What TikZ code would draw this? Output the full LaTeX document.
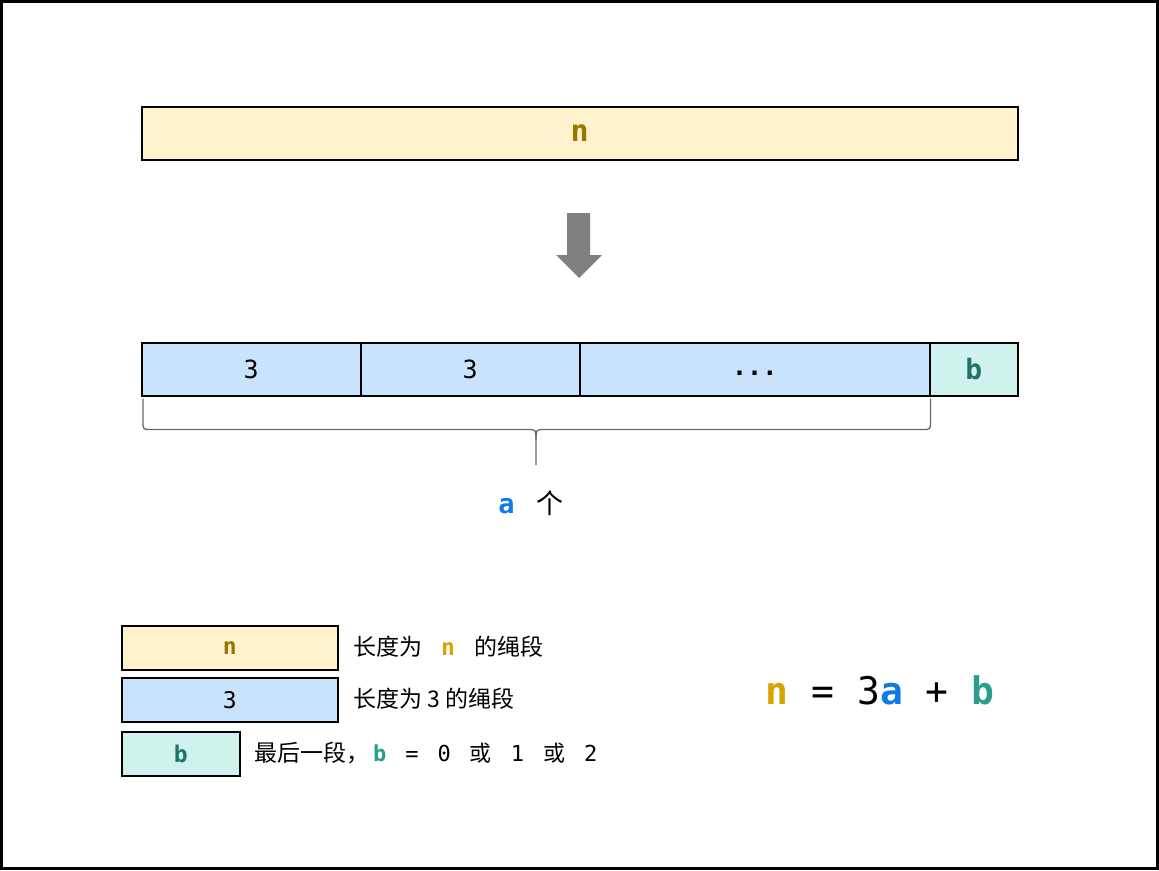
\documentclass[tikz,border=0pt]{standalone}
\usepackage{fontspec}
\setmainfont{Noto Sans CJK SC}
\setmonofont{DejaVu Sans Mono}
\usepackage{xcolor}
\usetikzlibrary{positioning,calc}
\definecolor{ropeyellow}{HTML}{FFF2CC}
\definecolor{ropeblue}{HTML}{C9E3FC}
\definecolor{ropeteal}{HTML}{D0F2EC}
\definecolor{ndark}{HTML}{9A7600}
\definecolor{ngold}{HTML}{D8A300}
\definecolor{ablue}{HTML}{0F7AE5}
\definecolor{bdark}{HTML}{1C7566}
\definecolor{bteal}{HTML}{2A9D8F}
\definecolor{arrowgray}{HTML}{808080}
\definecolor{bracegray}{HTML}{666666}
\newcommand\wsp{\hspace{19pt}}

\begin{document}
\begin{tikzpicture}[x=1pt,y=-1pt,font=\fontsize{23}{27}\selectfont,
  seg/.style={draw,line width=1.5pt,inner sep=0pt,anchor=north west,minimum height=53pt,
              font=\fontsize{25}{29}\selectfont\ttfamily},
  key/.style={draw,line width=1.5pt,inner sep=0pt,anchor=north west,minimum height=44pt,
              font=\fontsize{23}{27}\selectfont\ttfamily},
  brace/.style={bracegray,line width=1.3pt}]
  \useasboundingbox (0,0) rectangle (1159,870);
  \draw[line width=3pt] (1.5,1.5) rectangle (1157.5,868.5);
  % whole rope
  \node[seg,fill=ropeyellow,minimum width=876pt,font=\fontsize{30}{34}\selectfont\ttfamily] (whole) at (141,106)
       {\textcolor{ndark}{\textbf{n}}};
  \fill[arrowgray] (567,213) -- (590,213) -- (590,255) -- (602,255) -- (579,278) -- (556,255) -- (567,255) -- cycle;
  % cut rope
  \foreach \x/\w/\lab/\nm in {141/219/3/c1,360/219/3/c2,579/350/\raisebox{-6pt}[0pt][0pt]{\textbf{.{}.{}.}}/c3}
    {\node[seg,fill=ropeblue,minimum width=\w pt] (\nm) at (\x,342) {\lab};}
  \node[seg,fill=ropeteal,minimum width=88pt,font=\fontsize{28}{32}\selectfont\ttfamily] (rest) at (929,342)
       {\textcolor{bdark}{\textbf{b}}};
  % brace
  \coordinate (bl) at ($(c1.south west)+(2,2)$);
  \coordinate (br) at ($(c3.south east)+(0,2)$);
  \coordinate (tip) at (536,465);
  \draw[brace] (bl) -- ++(0,23) .. controls ++(0,8) .. ++(8,8) -- ($(tip |- bl)+(-8,31)$)
     .. controls ($(tip |- bl)+(0,31)$) .. ($(tip |- bl)+(0,42)$) -- (tip);
  \draw[brace] (br) -- ++(0,23) .. controls ++(0,8) .. ++(-8,8) -- ($(tip |- bl)+(8,31)$)
     .. controls ($(tip |- bl)+(0,31)$) .. ($(tip |- bl)+(0,42)$);
  \node[font=\fontsize{27}{31}\selectfont] (count) at (531,503)
       {\ttfamily\textcolor{ablue}{\textbf{a}}\hspace{22pt}\rmfamily 个};
  % legend
  \node[key,fill=ropeyellow,minimum width=216pt] (k1) at (121,625) {\textcolor{ndark}{\textbf{n}}};
  \node[key,fill=ropeblue,minimum width=216pt] (k2) at (121,677) {3};
  \node[key,fill=ropeteal,minimum width=118pt] (k3) at (121,731) {\textcolor{bdark}{\textbf{b}}};
  \node[anchor=west,inner sep=0pt] (t1) at (353,647)
       {长度为\wsp{\ttfamily\textcolor{ngold}{\textbf{n}}}\wsp 的绳段};
  \node[anchor=west,inner sep=0pt] (t2) at (353,699) {长度为 3 的绳段};
  \node[anchor=west,inner sep=0pt] (t3) at (254,753)
       {最后一段，\hspace{4pt}{\ttfamily\fontsize{22}{26}\selectfont\textcolor{bteal}{\textbf{b}}\wsp=\wsp0\wsp\rmfamily 或\wsp\ttfamily 1\wsp\rmfamily 或\wsp\ttfamily 2}};
  % formula
  \node[font=\fontsize{38}{44}\selectfont\ttfamily] (eqn) at (880,690)
       {\textcolor{ngold}{\textbf{n}} = 3\textcolor{ablue}{\textbf{a}} + \textcolor{bteal}{\textbf{b}}};
\end{tikzpicture}
\end{document}
